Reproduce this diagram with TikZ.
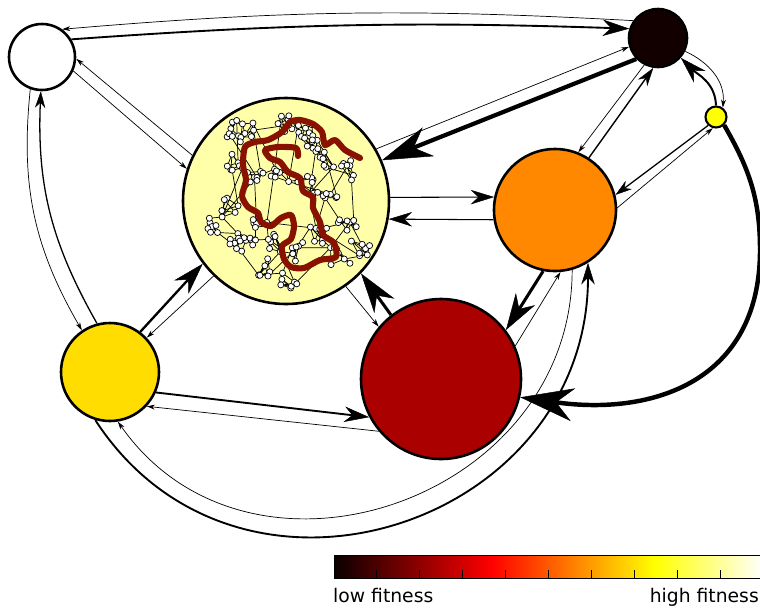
\documentclass[tikz,border=0pt]{standalone}
\usepackage{fontspec}
\setmainfont{DejaVu Sans}
\usetikzlibrary{arrows.meta}

\definecolor{hotlow}{rgb}{0.0416,0,0}
\definecolor{fitK}{RGB}{18,0,0}
\definecolor{fitC}{RGB}{255,255,170}
\definecolor{fitO}{RGB}{255,136,0}
\definecolor{fitR}{RGB}{170,0,0}
\definecolor{fitG}{RGB}{255,221,0}
\definecolor{fitY}{RGB}{255,255,0}
\definecolor{walkred}{RGB}{136,17,0}

\pgfdeclarehorizontalshading{hotmap}{100bp}{color(0bp)=(hotlow); color(25bp)=(hotlow); color(43.25bp)=(red); color(62.3bp)=(yellow); color(75bp)=(white); color(100bp)=(white)}

\begin{document}
\begin{tikzpicture}[x=0.03cm, y=-0.03cm,
    state/.style={circle, draw, line width=2.2pt, inner sep=0pt},
    weak/.style={line width=0.6pt, -{Stealth[length=0.24cm, width'=0pt 0.6, inset'=0pt 0.3]}},
    flow/.style 2 args={line width=#1, -{Stealth[length=#2, width'=0pt 0.62, inset'=0pt 0.32, line width=0.4pt]}},
    link/.style={line width=0.6pt},
    vertex/.style={circle, draw, fill=white, line width=0.6pt, minimum size=5.2pt, inner sep=0pt},
    walk/.style={line width=5.2pt, draw=walkred, line join=round, line cap=round}]
  \useasboundingbox (0,0) rectangle (760,607);

  \node[state, fill=white, minimum size=1.98cm] at (42, 57)   (white)   {};
  \node[state, fill=fitK,  minimum size=1.74cm] at (658, 38)  (black)   {};
  \node[state, fill=fitY,  line width=1.8pt, minimum size=0.63cm] at (716, 117) (lemon) {};
  \node[state, fill=fitC,  minimum size=6.18cm] at (286, 201) (net)     {};
  \node[state, fill=fitO,  minimum size=3.66cm] at (555, 210) (orange)  {};
  \node[state, fill=fitR,  minimum size=4.80cm] at (441, 379) (crimson) {};
  \node[state, fill=fitG,  minimum size=2.94cm] at (110, 372) (gold)    {};

  \begin{scope}[shift={(net.center)}]
    \pgfmathsetseed{42}
    \foreach \cx/\cy [count=\c] in {-56/-73, -39/-69, 1/-79, 21/-69, 27/-55, 41/-43, 64/-31,
        -33/-23, -6/-23, 21/-16, -56/7, -69/27, -23/21, 41/1, 61/24, 74/47, -39/37,
        -49/47, -13/41, 34/34, 11/51, 54/54, -26/67, 4/81, -50/-40} {
      \foreach \i in {1,...,7} {
        \pgfmathsetmacro{\dx}{\cx+10*rand}
        \pgfmathsetmacro{\dy}{\cy+10*rand}
        \coordinate (v-\c-\i) at (\dx,\dy);
      }
    }
    \foreach \c in {1,...,25}
      \foreach \i/\j in {1/2, 2/3, 3/4, 4/5, 5/6, 6/7, 7/1, 1/4, 2/5, 3/6, 7/4}
        \draw[link] (v-\c-\i) -- (v-\c-\j);
    \foreach \a/\b in {1/2, 2/3, 3/4, 4/5, 5/6, 6/7, 2/8, 8/9, 9/10, 10/6, 10/14, 14/15,
        15/16, 7/14, 11/12, 11/25, 25/1, 8/25, 8/13, 13/9, 13/19, 11/17, 17/18, 12/18,
        17/19, 19/21, 21/24, 23/24, 18/23, 20/21, 20/22, 22/16, 14/20, 15/22, 9/4,
        13/20, 3/9, 19/23, 10/20, 24/22, 12/17, 5/10, 9/14, 11/8, 21/22, 16/20}
      \draw[link] (v-\a-1) -- (v-\b-3);
    \foreach \a/\b in {4/6, 7/15, 25/11, 3/5, 13/17, 20/15, 24/19, 2/9, 1/8, 23/21, 6/14}
      \draw[link] (v-\a-6) -- (v-\b-5);
    \foreach \c in {1,...,25}
      \foreach \i in {1,...,7}
        \node[vertex] at (v-\c-\i) (dot-\c-\i) {};

    \draw[walk] plot[smooth, tension=0.45] coordinates {(74,-43) (59,-51) (49,-61) (39,-56)
      (36,-69) (27,-77) (14,-81) (4,-79) (-4,-69) (-18,-61) (-31,-59) (-41,-54) (-43,-36)
      (-40,-21) (-44,-5) (-38,6) (-28,12) (-25,21) (-15,25) (-5,17) (5,14) (8,25) (5,38)
      (-4,45) (-2,58) (5,66) (18,67) (34,59) (50,56) (48,42) (37,34) (34,21) (27,7)
      (27,-4) (17,-10) (14,-23) (2,-29) (-6,-39) (-16,-43) (-21,-51) (-8,-54) (10,-53)
      (12,-45)};
  \end{scope}

  \draw[flow={1.6pt}{0.8cm}]  (white.31)    to[bend left=3]   (black.162);
  \draw[weak]                 (black.145)   to[bend right=4]  (white.54);
  \draw[weak]                 (white.-24)   --                (net.162);
  \draw[weak]                 (net.154)     --                (white.-3);
  \draw[flow={1.1pt}{0.5cm}]  (gold.105)    to[bend left=16]  (white.-92);
  \draw[weak]                 (white.-110)  to[bend right=18] (gold.124);
  \draw[flow={3.6pt}{1.5cm}]  (black.-136)  --                (net.23);
  \draw[weak]                 (net.30)      --                (black.-163);
  \draw[weak]                 (black.-117)  --                (orange.68);
  \draw[flow={1.2pt}{0.55cm}] (orange.57)   --                (black.-99);
  \draw[flow={1.7pt}{0.8cm}]  (lemon.90)    to[out=92, in=-45] (black.-41);
  \draw[weak]                 (black.-26)   to[out=-25, in=85] (lemon.54);
  \draw[flow={1.1pt}{0.5cm}]  (lemon.-133)  --                (orange.14);
  \draw[weak]                 (orange.2)    --                (lemon.-106);
  \coordinate (swing) at (760, 250);
  \draw[flow={3.8pt}{1.6cm}]  (lemon.-45)   to[out=-60, in=90] (swing)
                                            to[out=-90, in=-8, looseness=1.2] (crimson.-13);
  \draw[flow={0.9pt}{0.7cm}]  (net.2)       --                (orange.168);
  \draw[flow={0.9pt}{0.7cm}]  (orange.-171) --                (net.-10);
  \draw[flow={2.6pt}{1.1cm}]  (orange.-101) --                (crimson.37);
  \draw[weak]                 (crimson.24)  --                (orange.-85);
  \draw[flow={2.6pt}{1.2cm}]  (crimson.128) --                (net.-44);
  \draw[weak]                 (net.-55)     --                (crimson.140);
  \draw[flow={2pt}{0.95cm}]   (gold.53)     --                (net.-143);
  \draw[weak]                 (net.-134)    --                (gold.43);
  \draw[flow={1.6pt}{0.75cm}] (gold.-24)    --                (crimson.-152);
  \draw[weak]                 (crimson.-140) --               (gold.-43);
  \draw[flow={1.6pt}{0.65cm}] (gold.-107)   to[out=-57, in=-90, looseness=1.3]  (orange.-58);
  \draw[weak]                 (orange.-74)  to[out=-90, in=-55, looseness=1.23] (gold.-81);

  \node[draw, line width=1pt, shade, shading=hotmap, minimum width=12.87cm, minimum height=0.69cm,
        inner sep=0pt, anchor=north west] at (334, 555) (bar) {};
  \foreach \k in {1,...,9}
    \draw[line width=0.8pt] (334+\k*42.9, 578) -- ++(0,-8);
  \node[anchor=base west, font=\fontsize{16}{19}\selectfont, inner sep=0pt] at (333, 602) (low)  {low fitness};
  \node[anchor=base east, font=\fontsize{16}{19}\selectfont, inner sep=0pt] at (759, 602) (high) {high fitness};
\end{tikzpicture}
\end{document}
